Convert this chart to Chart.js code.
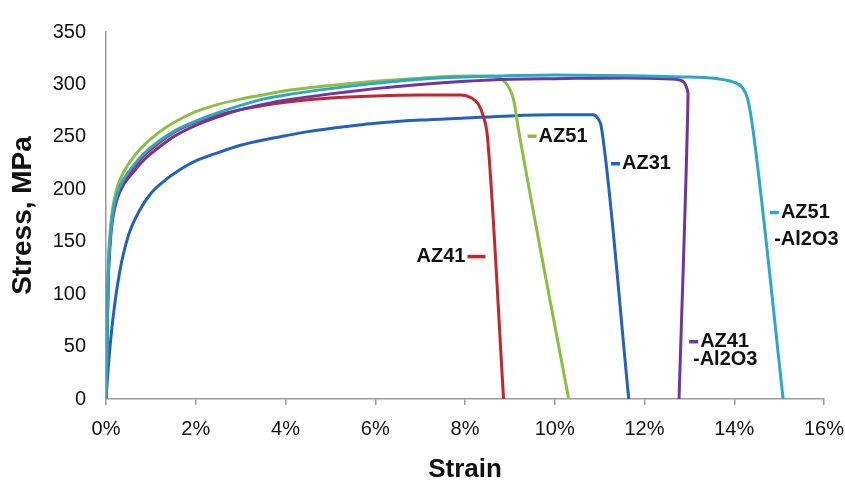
<!DOCTYPE html>
<html>
<head>
<meta charset="utf-8">
<script src="https://cdn.jsdelivr.net/npm/chart.js@4"></script>
<style>
html,body{margin:0;padding:0;background:#fff;}
#wrap{width:845px;height:483px;position:relative;}
</style>
</head>
<body>
<div id="wrap"><canvas id="c" width="845" height="483"></canvas></div>
<script>
// ---- data (strain in %, stress in MPa) ----
const xTickLabels = ['0%','2%','4%','6%','8%','10%','12%','14%','16%'];
const yTickLabels = ['0','50','100','150','200','250','300','350'];

const az51Al2o3Strain = [0,0.05,0.1,0.15,0.25,0.4,0.6,0.8,1.0,1.5,2.0,2.5,3.0,3.5,4.0,5.0,6.0,7.0,8.0,10.0,12.0,13.0,13.7,14.0,14.18,14.3,14.42,15.09];
const az51Al2o3Stress = [0,118,157,177,196,210,222,232,240,255,265,273,280,286,290,296,301,305,307,309,308,307,305,302,297,286,256,0];

const az41Al2o3Strain = [0,0.05,0.1,0.15,0.25,0.4,0.6,0.8,1.0,1.5,2.0,2.5,3.0,3.5,4.0,5.0,6.0,7.0,8.0,9.0,10.0,11.0,12.0,12.7,12.88,12.97,12.77];
const az41Al2o3Stress = [0,113,152,172,191,205,216,226,234,250,261,269,276,281,285,291,296,300,303,305,305.5,306,306,305,302,291,0];

const az51Strain = [0,0.05,0.1,0.15,0.25,0.4,0.6,0.8,1.0,1.3,1.7,2.0,2.5,3.0,3.5,4.0,5.0,6.0,7.0,8.0,8.6,8.85,8.98,9.08,9.2,10.31];
const az51Stress = [0,125,163,182,202,217,230,240,248,258,268,274,281,286,290,294,299,303,306,308,308,304,297,286,255,0];

const az41Strain = [0,0.05,0.1,0.15,0.25,0.4,0.6,0.8,1.0,1.5,2.0,2.5,3.0,3.5,4.0,5.0,6.0,7.0,7.9,8.15,8.3,8.42,8.5,8.86];
const az41Stress = [0,118,158,178,196,209,220,230,238,254,264,271,276,280,283,287,289,290,290,287,281,268,250,0];

const az31Strain = [0,0.05,0.15,0.3,0.5,0.75,1.0,1.3,1.7,2.0,2.5,3.0,3.5,4.0,4.5,5.0,6.0,7.0,8.0,9.0,10.0,10.85,10.97,11.04,11.65];
const az31Stress = [0,30,75,120,156,180,196,208,220,227,235,242,247,251,255,258,263,266,268,270,271,271,267,259,0];

const seriesNames = ['AZ51-Al2O3','AZ41-Al2O3','AZ51','AZ41','AZ31'];
const seriesColors = ['#2BA8C7','#6F35A0','#8CBF3F','#C3272E','#2162BE'];
const seriesMonotone = [true, false, true, true, true];

// label annotations (anchored in data coordinates)
const labelTexts   = ['AZ51','AZ31','AZ51','-Al2O3','AZ41','-Al2O3','AZ41'];
const labelStrain  = [9.64, 11.5, 15.04, 14.89, 13.24, 13.08, 8.01];
const labelStress  = [250.6, 224.4, 177.8, 152.6, 54.6, 37.8, 135.8];
const labelSeries  = [2, 4, 0, -1, 1, -1, 3];
const labelSide    = ['left','left','left','none','left','none','right'];

function pts(xs, ys){ return xs.map((x,i)=>({x:x, y:ys[i]})); }
const seriesData = [
  pts(az51Al2o3Strain, az51Al2o3Stress),
  pts(az41Al2o3Strain, az41Al2o3Stress),
  pts(az51Strain, az51Stress),
  pts(az41Strain, az41Stress),
  pts(az31Strain, az31Stress)
];

const FONT = '"Liberation Sans", Arial, sans-serif';
const AXIS_GRAY = '#9b9b9b';

const labelPlugin = {
  id: 'seriesLabels',
  afterDatasetsDraw(chart){
    const ctx = chart.ctx, xs = chart.scales.x, ys = chart.scales.y;
    ctx.save();
    ctx.font = 'bold 20px ' + FONT;
    ctx.textBaseline = 'middle';
    ctx.fillStyle = '#111';
    for (let i=0;i<labelTexts.length;i++){
      const px = xs.getPixelForValue(labelStrain[i]);
      const py = ys.getPixelForValue(labelStress[i]);
      const col = labelSeries[i] >= 0 ? seriesColors[labelSeries[i]] : null;
      ctx.lineWidth = 3.5;
      if (labelSide[i] === 'left'){
        ctx.strokeStyle = col;
        ctx.beginPath(); ctx.moveTo(px-11, py); ctx.lineTo(px-2, py); ctx.stroke();
        ctx.textAlign = 'left';
        ctx.fillText(labelTexts[i], px, py);
      } else if (labelSide[i] === 'right'){
        ctx.strokeStyle = col;
        ctx.beginPath(); ctx.moveTo(px+2, py); ctx.lineTo(px+20, py); ctx.stroke();
        ctx.textAlign = 'right';
        ctx.fillText(labelTexts[i], px, py);
      } else {
        ctx.textAlign = 'left';
        ctx.fillText(labelTexts[i], px, py);
      }
    }
    ctx.restore();
  }
};

new Chart(document.getElementById('c'), {
  type: 'scatter',
  data: {
    datasets: seriesData.map((d,i)=>({
      label: seriesNames[i],
      data: d,
      showLine: true,
      borderColor: seriesColors[i],
      backgroundColor: seriesColors[i],
      borderWidth: 3,
      pointRadius: 0,
      pointHoverRadius: 0,
      cubicInterpolationMode: seriesMonotone[i] ? 'monotone' : 'default',
      tension: 0.25,
      fill: false
    }))
  },
  options: {
    responsive: false,
    animation: false,
    layout: { padding: { left: 0, right: 21, top: 24, bottom: 0 } },
    plugins: { legend: { display: false }, tooltip: { enabled: false } },
    scales: {
      x: {
        type: 'linear', min: 0, max: 16,
        afterFit(s){ s.height = 84; s.paddingRight = 0; s.paddingLeft = 0; },
        afterBuildTicks(s){ s.ticks = xTickLabels.map((t,i)=>({value: i*2})); },
        grid: { display: true, drawOnChartArea: false, drawTicks: true, tickLength: 6, color: AXIS_GRAY, lineWidth: 1.5 },
        border: { display: true, color: AXIS_GRAY, width: 1.5 },
        ticks: {
          padding: 12, color: '#111',
          font: { family: FONT, size: 20 },
          callback: (v)=> xTickLabels[Math.round(v/2)]
        },
        title: { display: true, text: 'Strain', color: '#111',
          font: { family: FONT, size: 26, weight: 'bold', lineHeight: 1 }, padding: { top: 0, bottom: 0 } }
      },
      y: {
        type: 'linear', min: 0, max: 350,
        afterFit(s){ s.width = 106; },
        afterBuildTicks(s){ s.ticks = yTickLabels.map((t,i)=>({value: i*50})); },
        grid: { display: false, drawTicks: false },
        border: { display: true, color: AXIS_GRAY, width: 1.5 },
        ticks: {
          padding: 20, color: '#111',
          font: { family: FONT, size: 20 },
          callback: (v)=> yTickLabels[Math.round(v/50)]
        },
        title: { display: true, text: 'Stress, MPa', color: '#111',
          font: { family: FONT, size: 28, weight: 'bold', lineHeight: 1 }, padding: { top: 9, bottom: 0 } }
      }
    }
  },
  plugins: [labelPlugin]
});
</script>
</body>
</html>
